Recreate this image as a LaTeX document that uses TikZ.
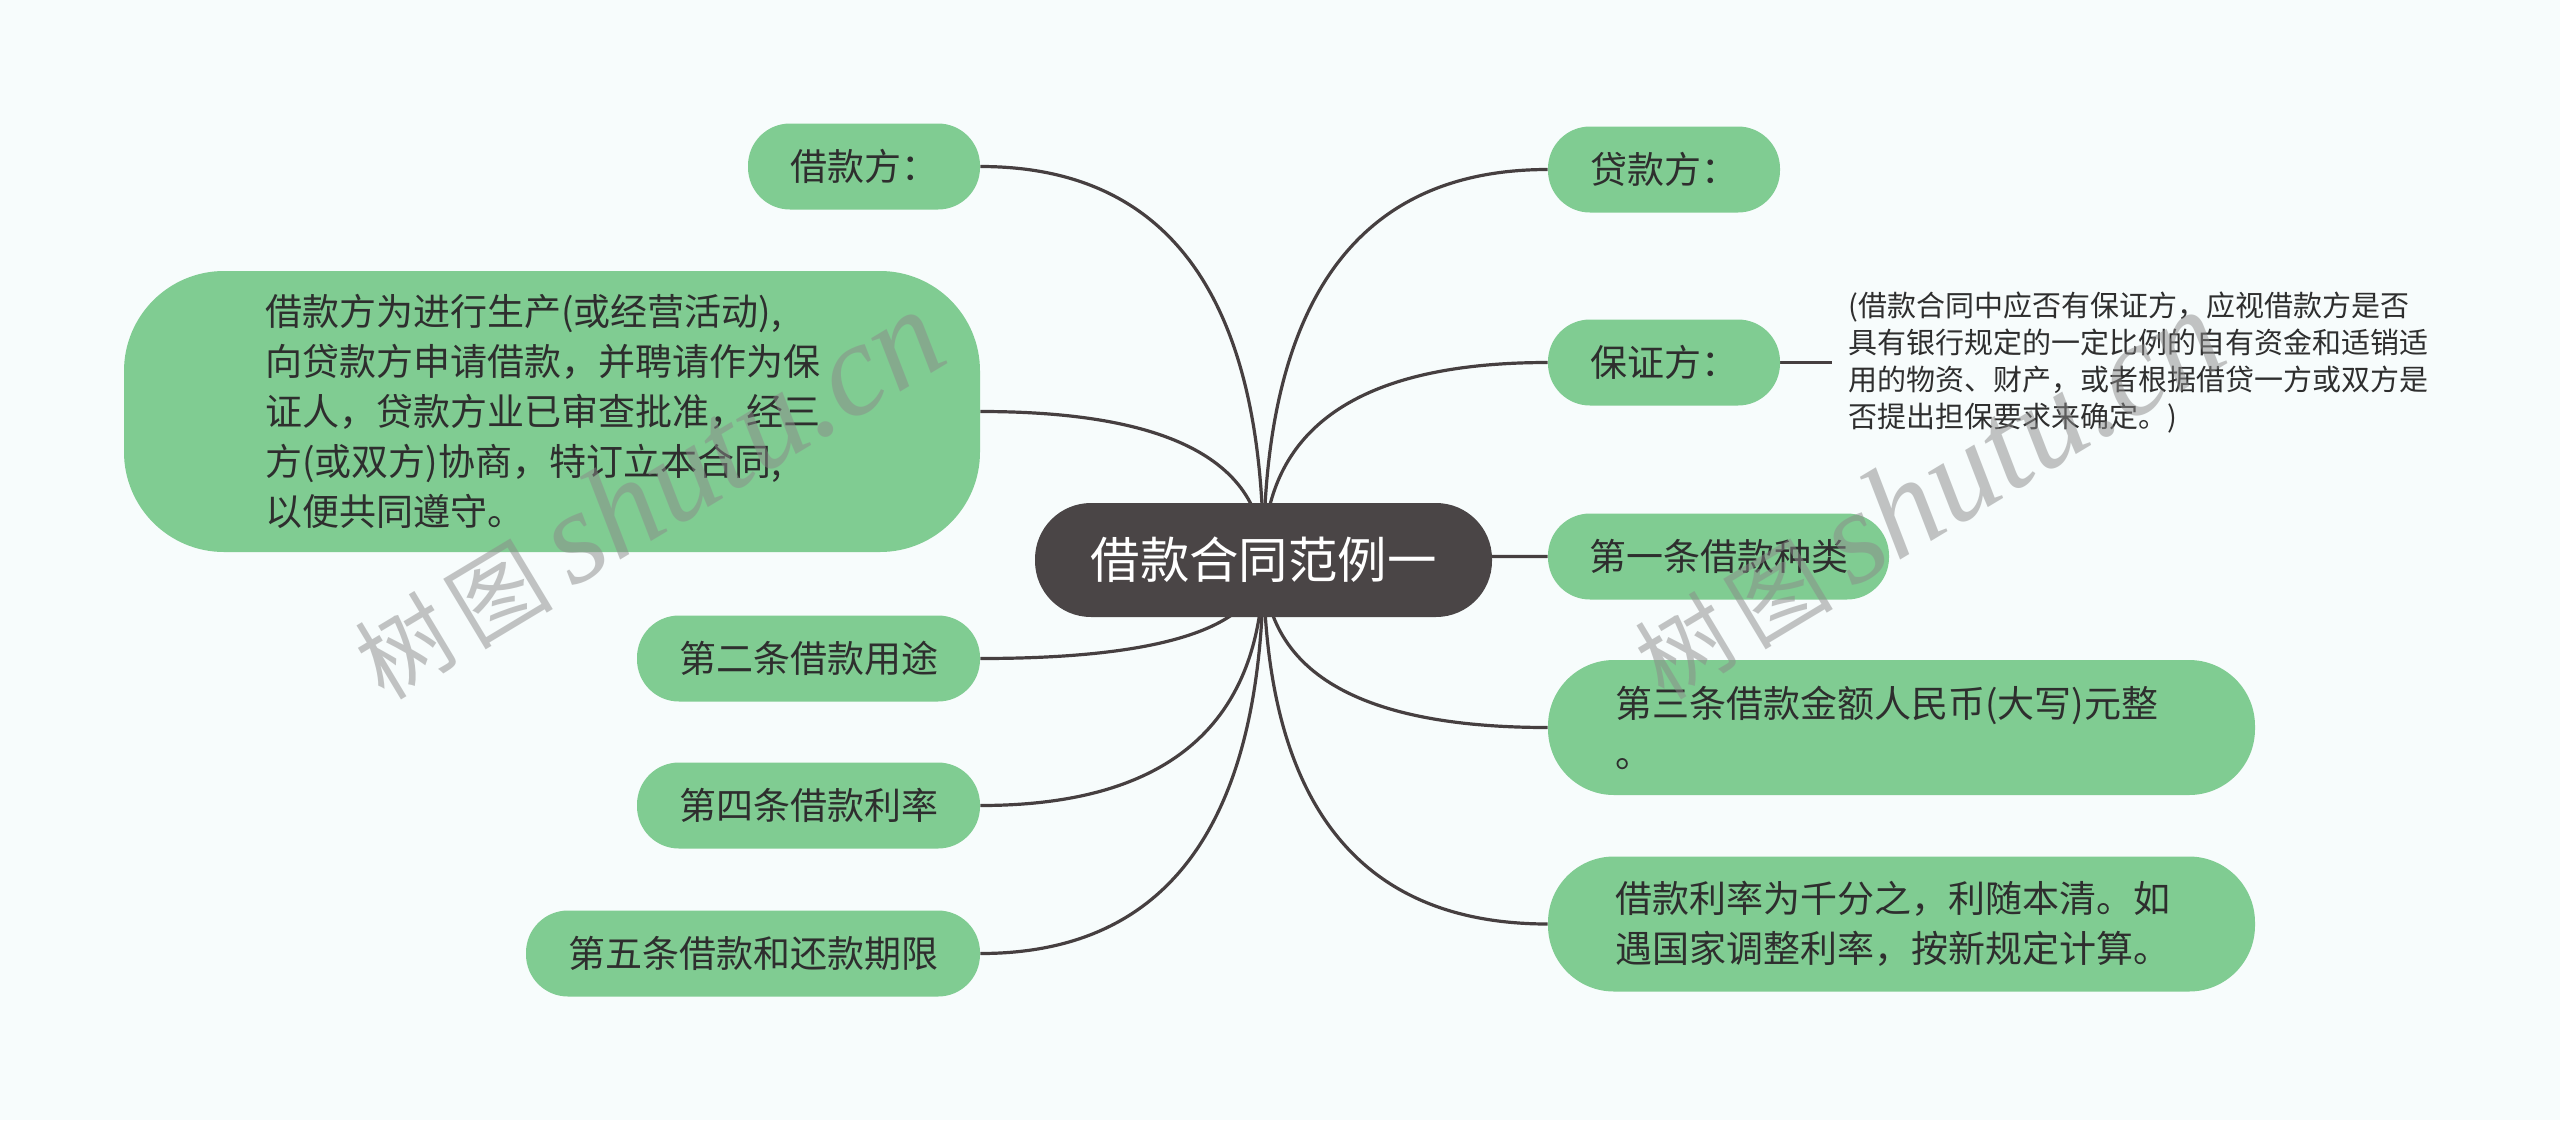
\documentclass[tikz,border=0pt]{standalone}
\usepackage{fontspec}
\newfontfamily\cjk{Noto Sans CJK SC}
\newfontfamily\wmserif{Liberation Serif}
\usetikzlibrary{calc}
\definecolor{bgc}{HTML}{F7FCFC}
\definecolor{leaf}{HTML}{80CC92}
\definecolor{rootc}{HTML}{4A4546}
\definecolor{linec}{HTML}{463F40}
\definecolor{txt}{HTML}{2E2E2E}
\definecolor{wmc}{HTML}{8A8A8A}
\pgfdeclarelayer{bglayer}
\pgfdeclarelayer{fglayer}
\pgfsetlayers{bglayer,main,fglayer}
\begin{document}
\begin{tikzpicture}[x=0.5pt,y=-0.5pt,
  leafbox/.style={fill=leaf, rounded corners=21pt, minimum height=43pt, inner sep=0pt,
    text=txt, font=\cjk\fontsize{18.5pt}{25pt}\selectfont, align=center},
  tallbox/.style={leafbox, rounded corners=33pt, minimum height=67.5pt, text width=286.5pt,
    align=left, minimum width=353.5pt},
  rootbox/.style={fill=rootc, rounded corners=28pt, minimum height=57pt, minimum width=228.5pt,
    inner sep=0pt, text=white, font=\cjk\fontsize{24.7pt}{30pt}\selectfont},
  notetext/.style={anchor=west, inner xsep=8pt, inner ysep=0pt, text=txt, align=left,
    font=\cjk\fontsize{14.5pt}{18.5pt}\selectfont},
  conn/.style={draw=linec, line width=1.6pt},
  wm/.style={text=wmc, opacity=0.5, inner sep=0pt}]

\useasboundingbox (0,0) rectangle (2560,1120);

% central topic
\node[rootbox] (root) at (1263.5,560) {借款合同范例一};

% left branch
\node[leafbox, minimum width=116pt] (n1) at (864,166.5) {借款方：};
\node[leafbox, rounded corners=50pt, minimum width=428pt, minimum height=140.5pt,
      text width=287pt, align=left] (n2) at (552,411.5)
  {借款方为进行生产(或经营活动),\\向贷款方申请借款，并聘请作为保\\证人，贷款方业已审查批准，经三\\方(或双方)协商，特订立本合同,\\以便共同遵守。};
\node[leafbox, minimum width=171.5pt] (n3) at (808.5,658.5) {第二条借款用途};
\node[leafbox, minimum width=171.5pt] (n4) at (808.5,805.5) {第四条借款利率};
\node[leafbox, minimum width=227pt] (n5) at (753,953.5) {第五条借款和还款期限};

% right branch
\node[leafbox, minimum width=116pt] (m1) at (1664,169.5) {贷款方：};
\node[leafbox, minimum width=116pt] (m2) at (1664,362.5) {保证方：};
\node[notetext] (note) at (1832,362.5)
  {(借款合同中应否有保证方，应视借款方是否\\具有银行规定的一定比例的自有资金和适销适\\用的物资、财产，或者根据借贷一方或双方是\\否提出担保要求来确定。)};
\node[leafbox, minimum width=170.5pt] (m3) at (1718.5,556.5) {第一条借款种类};
\node[tallbox] (m4) at (1901.5,727.5) {第三条借款金额人民币(大写)元整\\。};
\node[tallbox] (m5) at (1901.5,924) {借款利率为千分之，利随本清。如\\遇国家调整利率，按新规定计算。};

\begin{pgfonlayer}{bglayer}
  \fill[bgc] (0,0) rectangle (2560,1120);
  \foreach \t/\a in {n1/east,n2/east,n3/east,n4/east,n5/east,m1/west,m2/west,m3/west,m4/west,m5/west}{
    \draw[conn] (root.center) .. controls ($(root.center)!0.6667!(root.center |- \t.\a)$)
      and ($(\t.\a)!0.6667!(root.center |- \t.\a)$) .. (\t.\a);
  }
  \draw[conn] (m2.east) -- (note.west);
\end{pgfonlayer}

% watermarks
\begin{pgfonlayer}{fglayer}
  \node[wm, rotate=31] (wm1) at (647,495)
    {{\cjk\fontsize{47pt}{47pt}\selectfont 树\hspace{6pt}图}\hspace{10pt}{\wmserif\itshape\fontsize{66pt}{66pt}\selectfont shutu.cn}};
  \node[wm, rotate=31] (wm2) at (1927,495)
    {{\cjk\fontsize{47pt}{47pt}\selectfont 树\hspace{6pt}图}\hspace{10pt}{\wmserif\itshape\fontsize{66pt}{66pt}\selectfont shutu.cn}};
\end{pgfonlayer}
\end{tikzpicture}
\end{document}
